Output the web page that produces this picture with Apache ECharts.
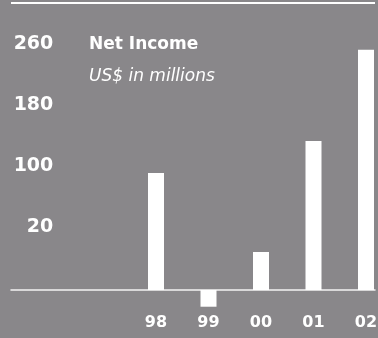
<!DOCTYPE html>
<html>
<head>
<meta charset="utf-8">
<script src="https://cdn.jsdelivr.net/npm/echarts@6/dist/echarts.min.js"></script>
<style>
  html, body { margin: 0; padding: 0; background: #89878a; }
  #chart { width: 378px; height: 338px; }
</style>
</head>
<body>
<div id="chart"></div>
<script>
// Fiscal years shown along the bottom
const years = ['98', '99', '00', '01', '02'];
// Net income per year, US$ millions
const netIncome = [154, -22, 50, 196, 316];
// Scale labels printed down the left side
const scaleLabels = [20, 100, 180, 260];

const FONT = '"DejaVu Sans", "Liberation Sans", sans-serif';
const WHITE = '#ffffff';

// Plot geometry
const gridTop = 30, gridBottomY = 312;   // px
const zeroY = 290;                        // baseline of the bars
const labelZeroY = 242;                   // where 0 sits for the side scale
const pxPerUnit = 0.76;
const plotLeft = 11, plotRight = 375;
const firstCenter = 156, step = 52.5;

const barMin = -(gridBottomY - zeroY) / pxPerUnit;
const barMax = (zeroY - gridTop) / pxPerUnit;
const lblMin = -(gridBottomY - labelZeroY) / pxPerUnit;
const lblMax = (labelZeroY - gridTop) / pxPerUnit;
const xMin = -(firstCenter - plotLeft) / step;
const xMax = (years.length - 1) + (plotRight - (firstCenter + step * (years.length - 1))) / step;

const chart = echarts.init(document.getElementById('chart'), null, { renderer: 'canvas' });

chart.setOption({
  backgroundColor: '#89878a',
  animation: false,
  title: {
    text: 'Net Income',
    subtext: 'US$ in millions',
    left: 84,
    top: 30,
    itemGap: 12,
    textStyle: { color: WHITE, fontFamily: FONT, fontWeight: 'bold', fontSize: 17, lineHeight: 20 },
    subtextStyle: { color: WHITE, fontFamily: FONT, fontStyle: 'italic', fontWeight: 'normal', fontSize: 17, lineHeight: 20 }
  },
  graphic: [{
    type: 'rect',
    shape: { x: plotLeft, y: 2, width: plotRight - plotLeft, height: 2 },
    style: { fill: WHITE }
  }],
  grid: {
    left: plotLeft,
    right: 378 - plotRight,
    top: gridTop,
    bottom: 338 - gridBottomY,
    containLabel: false,
    outerBoundsMode: 'none'
  },
  xAxis: {
    type: 'value',
    min: xMin,
    max: xMax,
    splitLine: { show: false },
    axisTick: { show: false },
    axisLine: { show: true, onZero: true, onZeroAxisIndex: 0, lineStyle: { color: '#f4f4f4', width: 1.5 } },
    axisLabel: {
      customValues: years.map((_, i) => i),
      formatter: v => years[Math.round(v)] ?? '',
      color: WHITE,
      fontFamily: FONT,
      fontWeight: 'bold',
      fontSize: 16,
      margin: 3
    }
  },
  yAxis: [{
    type: 'value',
    min: barMin,
    max: barMax,
    axisLine: { show: false },
    axisTick: { show: false },
    splitLine: { show: false },
    axisLabel: { show: false }
  }, {
    type: 'value',
    position: 'left',
    min: lblMin,
    max: lblMax,
    axisLine: { show: false },
    axisTick: { show: false },
    splitLine: { show: false },
    axisLabel: {
      customValues: scaleLabels,
      inside: true,
      align: 'right',
      margin: 42.3,
      color: WHITE,
      fontFamily: FONT,
      fontWeight: 'bold',
      fontSize: 19
    }
  }],
  series: [{
    type: 'bar',
    xAxisIndex: 0,
    yAxisIndex: 0,
    barWidth: 16,
    itemStyle: { color: WHITE },
    data: netIncome.map((v, i) => [i, v])
  }]
});
</script>
</body>
</html>
